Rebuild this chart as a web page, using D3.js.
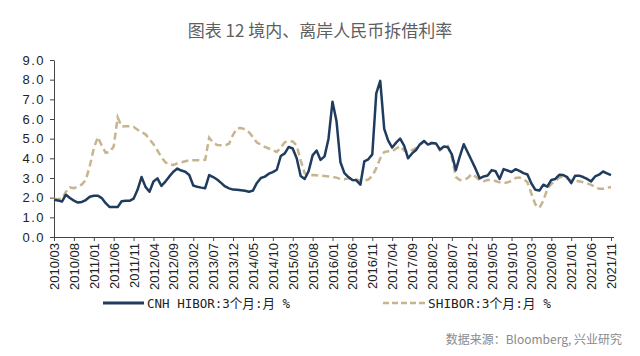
<!DOCTYPE html>
<html><head><meta charset="utf-8">
<script src="https://cdn.jsdelivr.net/npm/d3@7"></script>
<style>
html,body{margin:0;padding:0;background:#fff;}
svg{display:block;}
</style></head>
<body>
<svg id="chart" width="640" height="356"></svg>
<script>
const titleText = "图表 12  境内、离岸人民币拆借利率";
const sourceText = "数据来源：Bloomberg, 兴业研究";
const seriesNames = ["CNH HIBOR:3个月:月 %", "SHIBOR:3个月:月 %"];

// monthly categories 2010/03 .. 2021/11
const categories = d3.timeMonth.range(new Date(2010, 2, 1), new Date(2021, 11, 1)).map(d3.timeFormat("%Y/%m"));

const tickLabels = ["2010/03","2010/08","2011/01","2011/06","2011/11","2012/04","2012/09","2013/02","2013/07","2013/12",
  "2014/05","2014/10","2015/03","2015/08","2016/01","2016/06","2016/11","2017/04","2017/09","2018/02",
  "2018/07","2018/12","2019/05","2019/10","2020/03","2020/08","2021/01","2021/06","2021/11"];

const yTicks = [0,1,2,3,4,5,6,7,8,9];

const cnhHibor = [
  1.89,1.86,1.80,2.15,1.98,1.85,1.75,1.78,1.88,2.05,
  2.10,2.10,1.98,1.72,1.52,1.52,1.52,1.82,1.84,1.84,
  1.95,2.40,3.05,2.55,2.30,2.82,2.98,2.60,2.82,3.08,
  3.32,3.48,3.38,3.32,3.15,2.62,2.55,2.51,2.48,3.15,
  3.05,2.92,2.75,2.57,2.47,2.41,2.40,2.38,2.35,2.30,
  2.36,2.75,3.00,3.07,3.22,3.30,3.42,4.12,4.25,4.58,
  4.50,4.00,3.10,2.95,3.35,4.15,4.40,3.92,4.10,5.00,
  6.88,5.90,3.80,3.25,3.05,2.90,2.88,2.66,3.85,3.95,
  4.20,7.30,7.94,5.50,4.90,4.55,4.80,5.00,4.65,4.00,
  4.25,4.42,4.72,4.88,4.70,4.78,4.76,4.45,4.60,4.56,
  4.20,3.40,4.10,4.72,4.30,3.88,3.45,2.98,3.08,3.13,
  3.40,3.34,2.95,3.45,3.38,3.30,3.45,3.36,3.25,3.18,
  2.72,2.40,2.36,2.66,2.56,2.90,2.95,3.16,3.15,3.04,
  2.74,3.12,3.12,3.05,2.95,2.83,3.08,3.17,3.33,3.24,
  3.15];

const shibor = [
  1.93,1.93,1.93,2.30,2.52,2.48,2.57,2.67,2.90,3.62,
  4.50,5.08,4.65,4.28,4.32,4.60,6.08,5.62,5.63,5.63,
  5.60,5.45,5.33,5.22,4.98,4.72,4.40,4.05,3.80,3.68,
  3.66,3.74,3.80,3.85,3.90,3.90,3.90,3.90,3.92,5.05,
  4.80,4.68,4.66,4.66,4.74,5.20,5.52,5.54,5.48,5.33,
  5.08,4.80,4.70,4.58,4.50,4.42,4.32,4.55,4.82,4.88,
  4.86,4.65,3.90,3.25,3.12,3.15,3.14,3.12,3.10,3.08,
  3.05,3.02,2.95,2.94,2.98,2.96,2.93,2.88,2.87,2.92,
  3.10,3.50,4.00,4.32,4.36,4.36,4.50,4.62,4.40,4.30,
  4.42,4.52,4.68,4.85,4.80,4.78,4.75,4.40,4.56,4.62,
  4.05,3.05,2.90,2.90,3.00,3.20,3.07,2.88,2.84,2.90,
  2.90,2.85,2.78,2.73,2.78,2.85,3.00,3.02,2.95,2.78,
  2.20,1.65,1.48,1.85,2.44,2.70,2.85,3.02,3.07,2.97,
  2.88,2.85,2.83,2.78,2.73,2.65,2.55,2.45,2.45,2.52,
  2.53];

const svg = d3.select("#chart");
const mLeft = 54, mRight = 611, mTop = 60, mBottom = 237;

const x = d3.scalePoint().domain(categories).range([mLeft, mRight]);
const y = d3.scaleLinear().domain([0, 9]).range([mBottom, mTop]);

// title
svg.append("text").attr("x", 320).attr("y", 37).attr("text-anchor", "middle")
  .attr("font-family", "'Noto Sans CJK SC', sans-serif").attr("font-size", 17)
  .attr("fill", "#5f5f5f").text(titleText);

const axisColor = "#444";

// y axis
const yAxis = svg.append("g").attr("transform", `translate(${mLeft},0)`)
  .call(d3.axisLeft(y).tickValues(yTicks).tickFormat(d3.format(".1f")).tickSize(4).tickSizeOuter(0).tickPadding(5));
yAxis.select(".domain").attr("stroke", axisColor);
yAxis.selectAll(".tick line").attr("stroke", axisColor);
yAxis.selectAll("text").attr("font-family", "'Liberation Sans', Arial, sans-serif").attr("font-size", 13)
  .attr("fill", "#222").attr("letter-spacing", 1.5);

// x axis
const xAxis = svg.append("g").attr("transform", `translate(0,${mBottom})`)
  .call(d3.axisBottom(x).tickValues(tickLabels).tickSize(4).tickSizeOuter(0).tickPadding(6));
xAxis.select(".domain").attr("stroke", axisColor).attr("d", `M${mLeft},0.5H${mRight + 3}`);
xAxis.selectAll(".tick line").attr("stroke", axisColor);
xAxis.selectAll("text")
  .attr("font-family", "'Liberation Sans', Arial, sans-serif").attr("font-size", 13).attr("fill", "#222")
  .attr("transform", "rotate(-90)").attr("text-anchor", "end")
  .attr("x", -6).attr("y", 0).attr("dy", "0.35em");

// lines
const line = d3.line().x((d, i) => x(categories[i])).y(d => y(d));
svg.append("path").datum(shibor).attr("d", line).attr("fill", "none")
  .attr("stroke", "#c8b48e").attr("stroke-width", 2.5).attr("stroke-dasharray", "7,4");
svg.append("path").datum(cnhHibor).attr("d", line).attr("fill", "none")
  .attr("stroke", "#1f3b5e").attr("stroke-width", 2.5).attr("stroke-linejoin", "round");

// legend
const leg = svg.append("g");
leg.append("line").attr("x1", 103).attr("x2", 144).attr("y1", 303).attr("y2", 303)
  .attr("stroke", "#1f3b5e").attr("stroke-width", 3);
leg.append("text").attr("x", 147).attr("y", 308)
  .attr("font-family", "'DejaVu Sans Mono', 'Noto Sans CJK SC', monospace").attr("font-size", 13)
  .attr("fill", "#222").attr("textLength", 143).attr("lengthAdjust", "spacingAndGlyphs").text(seriesNames[0]);
leg.append("line").attr("x1", 383).attr("x2", 425).attr("y1", 303).attr("y2", 303)
  .attr("stroke", "#c8b48e").attr("stroke-width", 2.5).attr("stroke-dasharray", "6,3");
leg.append("text").attr("x", 428).attr("y", 308)
  .attr("font-family", "'DejaVu Sans Mono', 'Noto Sans CJK SC', monospace").attr("font-size", 13)
  .attr("fill", "#222").attr("textLength", 123).attr("lengthAdjust", "spacingAndGlyphs").text(seriesNames[1]);

// source
svg.append("text").attr("x", 622).attr("y", 344).attr("text-anchor", "end")
  .attr("font-family", "'Noto Sans CJK SC', sans-serif").attr("font-size", 12)
  .attr("fill", "#8a8a8a").text(sourceText);
</script>
</body></html>
